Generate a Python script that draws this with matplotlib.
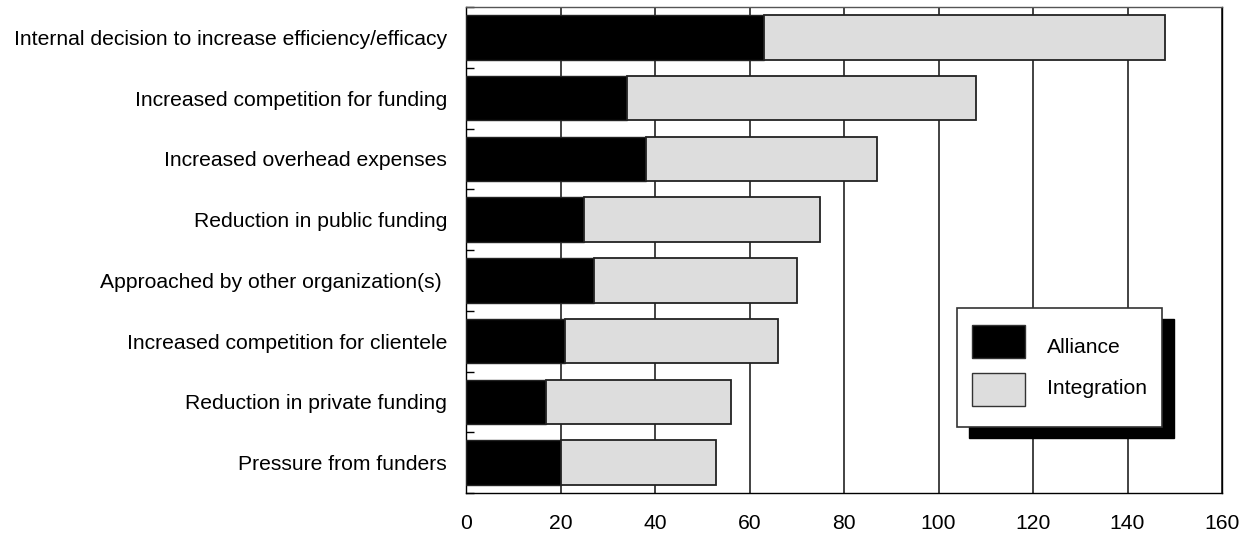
import matplotlib
matplotlib.use("Agg")
import matplotlib.pyplot as plt
from matplotlib.patches import Rectangle
import numpy as np

plt.rcParams['font.family'] = ['Liberation Sans', 'DejaVu Sans']

categories = [
    "Internal decision to increase efficiency/efficacy",
    "Increased competition for funding",
    "Increased overhead expenses",
    "Reduction in public funding",
    "Approached by other organization(s) ",
    "Increased competition for clientele",
    "Reduction in private funding",
    "Pressure from funders",
]
alliance = [63, 34, 38, 25, 27, 21, 17, 20]
integration = [85, 74, 49, 50, 43, 45, 39, 33]
series_names = ["Alliance", "Integration"]
x_ticks = [0, 20, 40, 60, 80, 100, 120, 140, 160]

FS = 15.2

W, H = 1248, 533
fig = plt.figure(figsize=(W / 100, H / 100), dpi=100)
ax = fig.add_axes([466 / W, 1 - 493 / H, (1222 - 466) / W, (493 - 7) / H])

y = np.arange(len(categories))
bar_h = 0.735
ax.barh(y, alliance, height=bar_h, color="black", edgecolor="#222222",
        linewidth=1.0, zorder=3)
ax.barh(y, integration, left=alliance, height=bar_h, color="#dddddd",
        edgecolor="#222222", linewidth=1.3, zorder=3)

ax.set_xlim(0, 160)
ax.set_ylim(len(categories) - 0.5, -0.5)
ax.set_xticks(x_ticks)
ax.set_xticklabels([str(t) for t in x_ticks], fontsize=FS)
ax.tick_params(axis='x', length=0, pad=14.8)

# category labels without tick marks; boundary ticks drawn as minor ticks
ax.set_yticks(y)
ax.set_yticklabels(categories, fontsize=FS)
ax.tick_params(axis='y', which='major', length=0, pad=13.5)
ax.set_yticks(np.arange(-0.5, len(categories) + 0.5, 1.0), minor=True)
ax.tick_params(axis='y', which='minor', direction='in', length=6,
               width=1.0, color='black')

ax.grid(axis='x', color='#222222', linewidth=1.2, zorder=1)
ax.set_axisbelow(True)
for side, sp in ax.spines.items():
    sp.set_linewidth(1.0)
    sp.set_color('#555555' if side == 'top' else 'black')

# legend box with drop shadow (figure pixel coordinates)
def fx(px):
    return px / W

def fy(py):
    return 1 - py / H

lx0, ly0, lx1, ly1 = 957, 308, 1162, 427
off = 12
fig.patches.append(Rectangle((fx(lx0 + off), fy(ly1 + off - 1)),
                             fx(lx1 - lx0), fy(ly0) - fy(ly1),
                             transform=fig.transFigure, facecolor='black',
                             edgecolor='black', zorder=5))
fig.patches.append(Rectangle((fx(lx0), fy(ly1)), fx(lx1 - lx0),
                             fy(ly0) - fy(ly1), transform=fig.transFigure,
                             facecolor='white', edgecolor='#333333',
                             linewidth=1.2, zorder=6))
swatches = [("black", 325, 358, 353), ("#dddddd", 373, 406, 394)]
for name, (col, t, b, base) in zip(series_names, swatches):
    fig.patches.append(Rectangle((fx(972), fy(b)), fx(1025 - 972),
                                 fy(t) - fy(b), transform=fig.transFigure,
                                 facecolor=col, edgecolor='#333333',
                                 linewidth=1.0, zorder=7))
    fig.text(fx(1047), fy(base), name, fontsize=FS,
             ha='left', va='baseline', zorder=8)

fig.savefig("out.png", dpi=100)
